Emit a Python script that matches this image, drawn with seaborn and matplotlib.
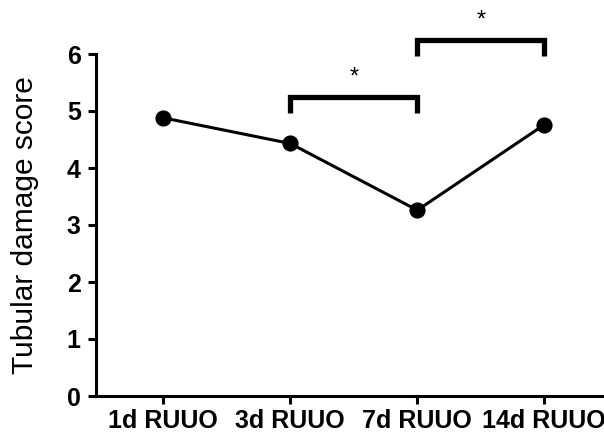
import matplotlib
matplotlib.use("Agg")
import matplotlib.pyplot as plt
import seaborn as sns
import pandas as pd

GROUPS = ["1d RUUO", "3d RUUO", "7d RUUO", "14d RUUO"]
SCORES = [4.88, 4.43, 3.26, 4.76]

# significance brackets: (left group, right group, bar height, label)
BRACKETS = [("3d RUUO", "7d RUUO", 5.25, "*"),
            ("7d RUUO", "14d RUUO", 6.25, "*")]


def main():
    sns.set_style("ticks", {"axes.edgecolor": "black", "text.color": "black",
                            "axes.labelcolor": "black", "xtick.color": "black",
                            "ytick.color": "black"})
    plt.rcParams["font.family"] = ["Liberation Sans", "DejaVu Sans"]

    df = pd.DataFrame({"group": GROUPS, "score": SCORES})

    fig = plt.figure(figsize=(6.04, 4.32), dpi=100)
    ax = fig.add_axes([96 / 604, 36 / 432, 508 / 604, 342 / 432])

    sns.pointplot(data=df, x="group", y="score", order=GROUPS, color="black",
                  markers="o", markersize=10, linewidth=2.2, ax=ax)

    ax.set_xlim(-0.53, 3.47)
    ax.set_ylim(0, 6)
    ax.set_yticks(range(0, 7))

    for left, right, h, label in BRACKETS:
        x1, x2 = GROUPS.index(left), GROUPS.index(right)
        ax.plot([x1, x1, x2, x2], [h - 0.28, h, h, h - 0.28], color="black",
                lw=3.8, solid_capstyle="butt", solid_joinstyle="miter", clip_on=False)
        ax.text((x1 + x2) / 2, h + 0.14, label, ha="center", va="bottom",
                fontsize=17, color="black", clip_on=False)

    sns.despine(ax=ax)
    for side in ["left", "bottom"]:
        ax.spines[side].set_linewidth(2.2)
        ax.spines[side].set_color("black")
    ax.tick_params(axis="both", width=2.2, length=6, color="black", labelcolor="black")
    ax.tick_params(axis="x", labelsize=18, pad=3)
    ax.tick_params(axis="y", labelsize=18, pad=5)
    for lbl in ax.get_xticklabels() + ax.get_yticklabels():
        lbl.set_fontweight("bold")

    ax.set_xlabel("")
    ax.set_ylabel("Tubular damage score", fontsize=21.5, labelpad=20, color="black")

    fig.savefig("out.png", dpi=100)
    plt.close(fig)


if __name__ == "__main__":
    main()
